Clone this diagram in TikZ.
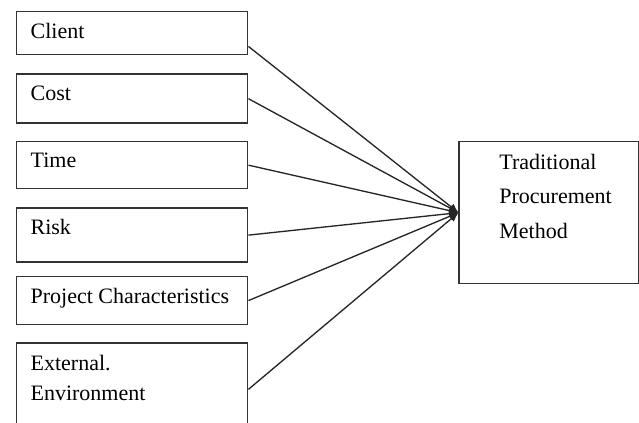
\documentclass[tikz,border=0pt]{standalone}
\usepackage{fontspec}
\setmainfont{Liberation Serif}
\usetikzlibrary{positioning, arrows.meta}

\begin{document}
\begin{tikzpicture}[
	factor/.style={draw=black!80, line width=1.1pt, minimum width=173.25pt, inner sep=0pt},
	boxtext/.style={anchor=north west, inner sep=0pt, align=left, xshift=10.75pt, yshift=-9pt, font=\fontsize{16.5pt}{22.5pt}\selectfont},
	proctext/.style={anchor=north west, inner sep=0pt, align=left, xshift=30.5pt, yshift=-9.5pt, font=\fontsize{16.5pt}{25.9pt}\selectfont},
	feed/.style={draw=black!85, line width=1pt, -{Latex[length=7pt, width=6pt]}}
	]
		\useasboundingbox (0,0) rectangle (479.25pt,-317.25pt);
		\clip (0,0) rectangle (479.25pt,-317.25pt);
		\node[factor, anchor=north west, minimum height=32.25pt, label={[boxtext]north west:Client}] (client) at (12pt,-8.25pt) {};
		\node[factor, minimum height=36.75pt, below=13.5pt of client, label={[boxtext]north west:Cost}] (cost) {};
		\node[factor, minimum height=35.25pt, below=12.75pt of cost, label={[boxtext]north west:Time}] (time) {};
		\node[factor, minimum height=40.5pt, below=13.5pt of time, label={[boxtext]north west:Risk}] (risk) {};
		\node[factor, minimum height=36pt, below=9.75pt of risk, label={[boxtext]north west:Project Characteristics}] (char) {};
		\node[factor, minimum height=100pt, below=12.75pt of char, label={[boxtext, yshift=-0.5pt]north west:{External.\\Environment}}] (ext) {};
		\node[factor, minimum width=135pt, minimum height=106.5pt, below right=0pt and 157.5pt of time.north east, label={[proctext]north west:{Traditional\\Procurement\\Method}}] (proc) {};
		
		\path[feed] ([yshift=6.75pt]client.south east) -- (proc.west);
		\foreach \src in {cost,time,risk,char}
			\path[feed] (\src.east) -- (proc.west);
		\path[feed] ([yshift=-35.25pt]ext.north east) -- (proc.west);
	\end{tikzpicture}
\end{document}
